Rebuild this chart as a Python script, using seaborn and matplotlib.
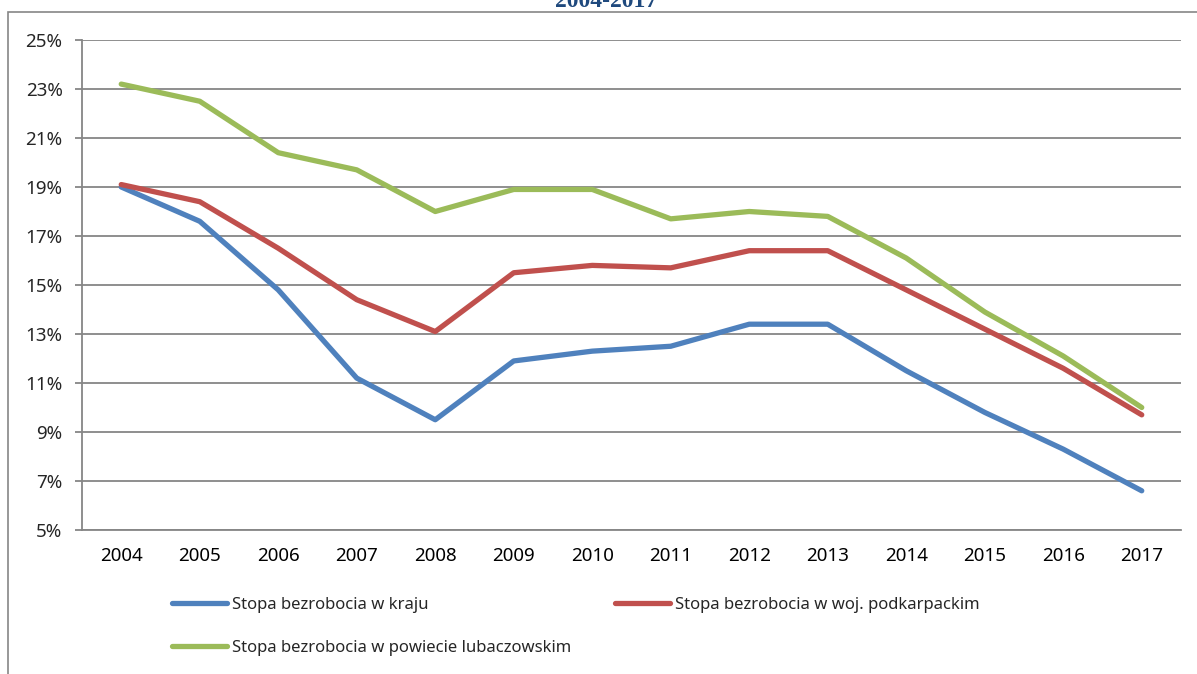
import numpy as np
import pandas as pd
import matplotlib
matplotlib.use("Agg")
import matplotlib.pyplot as plt
import seaborn as sns
from matplotlib.patches import Rectangle
from matplotlib.ticker import FuncFormatter

years = ["2004", "2005", "2006", "2007", "2008", "2009", "2010",
         "2011", "2012", "2013", "2014", "2015", "2016", "2017"]
kraj = [19.0, 17.6, 14.8, 11.2, 9.5, 11.9, 12.3, 12.5, 13.4, 13.4, 11.5, 9.8, 8.3, 6.6]
podkarpackie = [19.1, 18.4, 16.5, 14.4, 13.1, 15.5, 15.8, 15.7, 16.4, 16.4, 14.8, 13.2, 11.6, 9.7]
lubaczow = [23.2, 22.5, 20.4, 19.7, 18.0, 18.9, 18.9, 17.7, 18.0, 17.8, 16.1, 13.9, 12.1, 10.0]

labels = ["Stopa bezrobocia w kraju",
          "Stopa bezrobocia w woj. podkarpackim",
          "Stopa bezrobocia w powiecie lubaczowskim"]
colors = ["#4F81BD", "#C0504D", "#9BBB59"]

df = pd.DataFrame({
    "idx": list(range(len(years))) * 3,
    "value": kraj + podkarpackie + lubaczow,
    "series": [labels[0]] * len(years) + [labels[1]] * len(years) + [labels[2]] * len(years),
})

sns.set_style("white")
plt.rcParams["font.family"] = ["Noto Sans", "DejaVu Sans"]

fig = plt.figure(figsize=(11.97, 6.74), dpi=100)
ax = fig.add_axes([82 / 1197, 1 - 530 / 674, (1181 - 82) / 1197, 490 / 674])

grid_c = "#868686"

sns.lineplot(data=df, x="idx", y="value", hue="series", hue_order=labels,
             palette=colors, linewidth=3.8, ax=ax, legend=False,
             solid_capstyle="round", zorder=3)

ax.set_xlim(-0.5, len(years) - 0.5)
ax.set_ylim(5, 25)
ax.set_yticks(np.arange(5, 26, 2))
ax.yaxis.set_major_formatter(FuncFormatter(lambda v, p: f"{v:.0f}%"))
ax.set_xticks(range(len(years)))
ax.set_xticklabels(years)
ax.set_xticks(np.arange(-0.5, len(years), 1), minor=True)
ax.tick_params(axis="x", which="major", length=0, pad=12, labelsize=13.5, colors="black")
ax.tick_params(axis="x", which="minor", length=5, width=1.3, color=grid_c, direction="out")
ax.tick_params(axis="y", length=5, width=1.3, color=grid_c, direction="out", pad=9,
               labelsize=13.5, left=True)
ax.set_xlabel("")
ax.set_ylabel("")

ax.yaxis.grid(True, color=grid_c, linewidth=1.3)
ax.xaxis.grid(False)
for s in ["top", "right"]:
    ax.spines[s].set_visible(False)
for s in ["left", "bottom"]:
    ax.spines[s].set_color(grid_c)
    ax.spines[s].set_linewidth(1.3)

# outer chart frame
fig.patches.append(Rectangle((8 / 1197, -0.1), 1.2, 1 - 12 / 674 + 0.1,
                             transform=fig.transFigure, fill=False,
                             edgecolor=grid_c, linewidth=1.2))

# title is partly outside the picture, as in the source image
fig.text(0.506, 1 - 7 / 674, "2004-2017", ha="center", va="baseline",
         fontsize=17, fontweight="bold", color="#1F497D",
         family=["Liberation Serif", "DejaVu Serif"])

handles = ax.get_lines()[:3]
positions = [(172, 605), (615, 605), (172, 648)]
for h, lab, (px, py) in zip(handles, labels, positions):
    fig.legend([h], [lab], loc="center left",
               bbox_to_anchor=(px / 1197, 1 - py / 674), frameon=False,
               borderpad=0, borderaxespad=0, handlelength=3.3,
               handletextpad=0.3, fontsize=12)

fig.savefig("out.png", dpi=100)
